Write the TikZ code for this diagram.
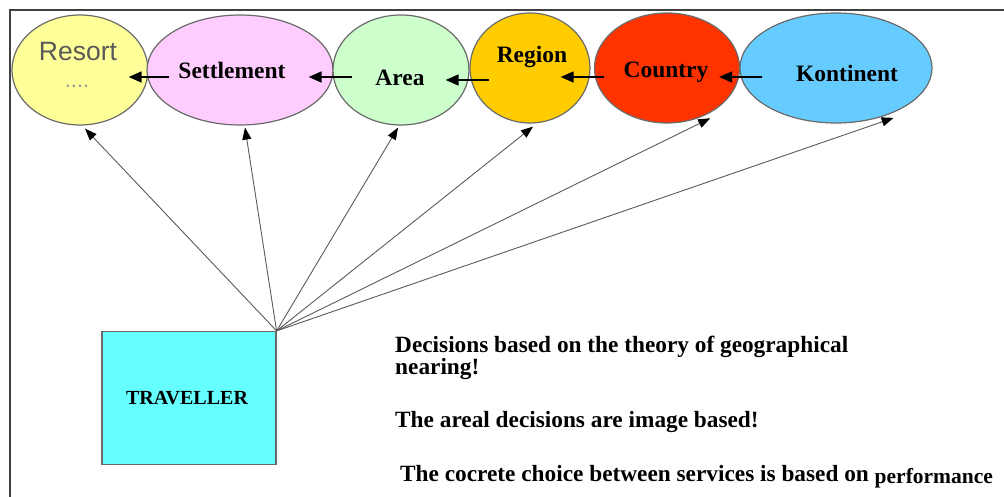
\documentclass[tikz,border=0pt]{standalone}
\usepackage{fontspec}
\setmainfont{Liberation Serif}
\newfontfamily\resortfont{Liberation Sans}
\usetikzlibrary{shapes.geometric,arrows.meta,positioning}
\definecolor{edgegray}{HTML}{6A6A6A}
\definecolor{fangray}{HTML}{5A5A5A}
\definecolor{resortc}{HTML}{FFFF99}
\definecolor{settlec}{HTML}{FFCCFF}
\definecolor{areac}{HTML}{CCFFCC}
\definecolor{regionc}{HTML}{FFCC00}
\definecolor{countryc}{HTML}{FF3300}
\definecolor{kontc}{HTML}{66CCFF}
\definecolor{travc}{HTML}{66FFFF}

\begin{document}
\begin{tikzpicture}[x=1pt, y=-1pt,
    place/.style={ellipse, draw=edgegray, line width=1.2pt, inner sep=0pt, minimum height=110pt},
    lbl/.style={font=\fontsize{23.5}{26}\selectfont\bfseries, inner sep=0pt},
    link/.style={-{Triangle[length=13pt,width=11pt]}, line width=1.6pt},
    fan/.style={-{Triangle[length=12pt,width=9pt,color=black]}, draw=fangray, line width=0.9pt},
    note/.style={font=\fontsize{23.3}{26}\selectfont\bfseries, anchor=base west, inner sep=0pt}
]
    \useasboundingbox (0,0) rectangle (1004,497);

    % Frame
    \draw[line width=2pt, black!75] (10,497) -- (10,10) -- (1004,10);

    % Places (left to right)
    \node[place, fill=resortc, minimum width=136pt] (resort) at (80,70) {};
    \node[place, fill=settlec, minimum width=186pt] (settle) at (240,70) {};
    \node[place, fill=areac, minimum width=136pt] (area) at (401,70) {};
    \node[place, fill=regionc, minimum width=120pt] (region) at (530,68) {};
    \node[place, fill=countryc, minimum width=145pt] (country) at (667,68) {};
    \node[place, fill=kontc, minimum width=192pt] (kont) at (836,68) {};

    % Place labels
    \node[font=\resortfont\fontsize{26.5}{28}\selectfont, text=black!65, inner sep=0pt] (resort-t) at (78,52) {Resort};
    \node[font=\resortfont\fontsize{22}{24}\selectfont, text=black!40, inner sep=0pt] (resort-d) at (77,86) {....};
    \node[lbl] (settle-t) at (232,70) {Settlement};
    \node[lbl] (area-t) at (400,78) {Area};
    \node[lbl] (region-t) at (532,57) {Region};
    \node[lbl] (country-t) at (666,72) {Country};
    \node[lbl] (kont-t) at (847,73) {Kontinent};

    % Nesting arrows
    \draw[link] ([shift={(23,9)}]kont.west) -- ([shift={(-21,9)}]country.east);
    \draw[link] ([shift={(10,9)}]country.west) -- ([shift={(-30,9)}]region.east);
    \draw[link] ([shift={(20,12)}]region.west) -- ([shift={(-24,10)}]area.east);
    \draw[link] ([shift={(20,7)}]area.west) -- ([shift={(-25,7)}]settle.east);
    \draw[link] ([shift={(23,7)}]settle.west) -- ([shift={(-20,7)}]resort.east);

    % Traveller
    \node[draw=edgegray, line width=1.2pt, fill=travc, minimum width=174pt, minimum height=133pt] (trav) at (189,398) {};
    \node[font=\fontsize{20}{22}\selectfont\bfseries, inner sep=0pt] (trav-t) at (187,398) {TRAVELLER};

    % Choices from the traveller
    \draw[fan] (trav.north east) -- ([shift={(5,3)}]resort.south);
    \draw[fan] (trav.north east) -- ([shift={(5,2)}]settle.south);
    \draw[fan] (trav.north east) -- ([shift={(-3,2)}]area.south);
    \draw[fan] (trav.north east) -- ([shift={(3,3)}]region.south);
    \draw[fan] (trav.north east) -- ([shift={(-1,6)}]country.-45);
    \draw[fan] (trav.north east) -- ([shift={(3,4)}]kont.-40);

    % Notes
    \node[note] (note1) at (395,352) {Decisions based on the theory of geographical};
    \node[note] (note2) at (395,374) {nearing!};
    \node[note] (note3) at (395,427) {The areal decisions are image based!};
    \node[note] (note4) at (400,481) {The cocrete choice between services is based on \raisebox{-2pt}{\fontsize{21.5}{24}\selectfont performance}};
\end{tikzpicture}
\end{document}
